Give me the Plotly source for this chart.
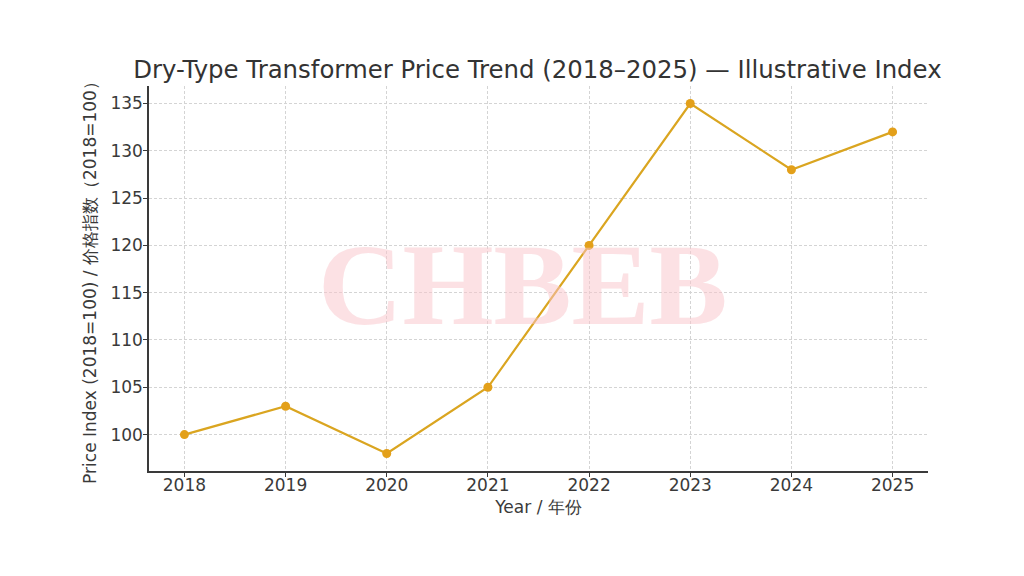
import plotly.graph_objects as go

years = [2018, 2019, 2020, 2021, 2022, 2023, 2024, 2025]
index_values = [100, 103, 98, 105, 120, 135, 128, 132]
x_ticks = years
y_ticks = [100, 105, 110, 115, 120, 125, 130, 135]

title_text = "Dry-Type Transformer Price Trend (2018–2025) — Illustrative Index"
x_label = "Year / 年份"
y_label = "Price Index (2018=100) / 价格指数（2018=100）"
watermark = "CHBEB"

font_family = "DejaVu Sans"
axis_color = "#3a3a3a"
grid_color = "#d4d4d4"

fig = go.Figure()
fig.add_trace(go.Scatter(
    x=years, y=index_values, mode="lines+markers",
    line=dict(color="#DAA520", width=2.2),
    marker=dict(color="#E3A01A", size=9),
    showlegend=False,
))

fig.add_annotation(
    text="<b>" + watermark + "</b>", xref="paper", yref="paper", x=0.48, y=0.485,
    showarrow=False, font=dict(family="Liberation Serif", size=117, color="rgba(250,195,202,0.5)"),
    xanchor="center", yanchor="middle",
)

fig.update_layout(
    width=1024, height=576,
    paper_bgcolor="white", plot_bgcolor="white",
    margin=dict(l=141, r=104, t=78, b=113),
    font=dict(family=font_family, color=axis_color, size=17),
    title=dict(text=title_text, x=0.517, xanchor="center", y=0.894, yanchor="middle",
               font=dict(size=24.4, color="#333333")),
)
fig.update_xaxes(
    range=[2017.65, 2025.35], tickvals=x_ticks, ticktext=[str(v) for v in x_ticks],
    showline=True, linecolor=axis_color, linewidth=1.5, mirror=False,
    ticks="outside", ticklen=4, tickcolor=axis_color, ticklabelstandoff=-6,
    showgrid=True, gridcolor=grid_color, griddash="3px,2px", gridwidth=0.8,
    zeroline=False, tickfont=dict(size=17),
    title=dict(text=x_label, font=dict(size=17), standoff=7),
)
fig.update_yaxes(
    range=[96.15, 136.85], tickvals=y_ticks,
    showline=True, linecolor=axis_color, linewidth=1.5, mirror=False,
    ticks="outside", ticklen=4, tickcolor=axis_color, ticklabelstandoff=-3,
    showgrid=True, gridcolor=grid_color, griddash="3px,2px", gridwidth=0.8,
    zeroline=False, tickfont=dict(size=17),
    title=dict(text=y_label, font=dict(size=17), standoff=9),
)

fig.write_html("out.html")
